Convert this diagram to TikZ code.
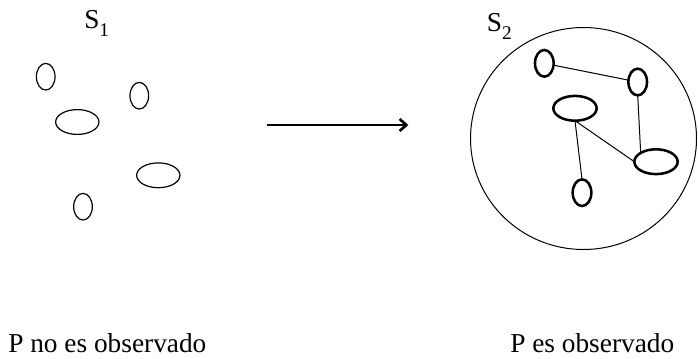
\documentclass[tikz,border=0pt]{standalone}
\usepackage{fontspec}
\setmainfont{Liberation Serif}
\usepackage{tikz}
\usetikzlibrary{arrows.meta, shapes.geometric}
\newcommand{\labelfont}{\fontsize{20.5pt}{23pt}\selectfont}
\newcommand{\subidx}[1]{\raisebox{-0.3em}{\fontsize{14.5pt}{15pt}\selectfont #1}}

\begin{document}
\begin{tikzpicture}[x=0.75pt, y=-0.75pt,
  elem/.style={ellipse, draw, line width=0.9pt, inner sep=0pt, outer sep=0pt},
  elemobs/.style={ellipse, draw, line width=1.9pt, inner sep=0pt, outer sep=0pt},
  small/.style={minimum width=14pt, minimum height=20pt},
  wide/.style={minimum width=32.5pt, minimum height=18.6pt},
  link/.style={line width=0.75pt}]
\useasboundingbox (0,0) rectangle (698,358);
% S1: elementos sueltos
\node[font=\labelfont, anchor=base west, inner sep=0pt] (S1) at (84,28) {S\subidx{1}};
\node[elem, small] (a1) at (45.7,76.7) {};
\node[elem, small] (b1) at (139.3,95.7) {};
\node[elem, wide] (c1) at (77.3,122) {};
\node[elem, wide] (d1) at (158.3,175.3) {};
\node[elem, small] (e1) at (83,206.7) {};
% flecha
\coordinate (arrL) at (266.7,125);
\coordinate (arrR) at (408.3,125);
\draw[line width=0.95pt, -{Straight Barb[length=5pt, width=9pt, line width=2pt]}] (arrL) -- (arrR);
% S2: sistema observado
\node[font=\labelfont, anchor=base west, inner sep=0pt] (S2) at (486.7,31.5) {S\subidx{2}};
\node[ellipse, draw, line width=0.75pt, minimum width=169.5pt, minimum height=166.5pt, inner sep=0pt] (S2set) at (583.5,138.5) {};
\node[elemobs, small] (a2) at (544.3,63.3) {};
\node[elemobs, small] (b2) at (637.7,82) {};
\node[elemobs, wide] (c2) at (575,108.3) {};
\node[elemobs, wide] (d2) at (656,161.7) {};
\node[elemobs, small] (e2) at (582,192.7) {};
\draw[link] (a2) -- (b2);
\draw[link] (b2.south) -- (d2.north west);
\draw[link] (c2.south) -- (e2.north);
\draw[link] (c2.south) -- (d2.west);
% textos
\node[font=\labelfont, anchor=base west, inner sep=0pt] (txtL) at (8,352) {P no es observado};
\node[font=\labelfont, anchor=base west, inner sep=0pt] (txtR) at (510,352) {P es observado};
\end{tikzpicture}
\end{document}
